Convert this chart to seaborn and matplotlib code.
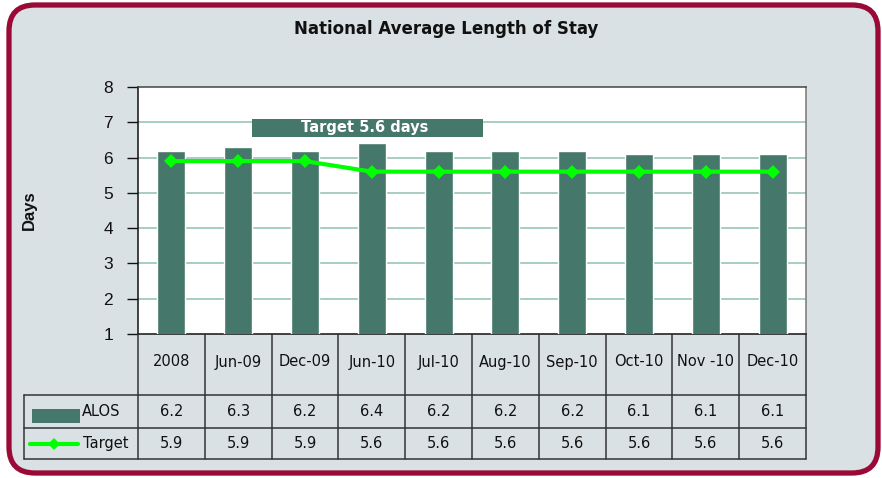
import matplotlib
matplotlib.use("Agg")
import matplotlib.pyplot as plt
import seaborn as sns
import pandas as pd
from matplotlib.patches import FancyBboxPatch, Rectangle

categories = ['2008', 'Jun-09', 'Dec-09', 'Jun-10', 'Jul-10', 'Aug-10',
              'Sep-10', 'Oct-10', 'Nov -10', 'Dec-10']
alos = [6.2, 6.3, 6.2, 6.4, 6.2, 6.2, 6.2, 6.1, 6.1, 6.1]
target = [5.9, 5.9, 5.9, 5.6, 5.6, 5.6, 5.6, 5.6, 5.6, 5.6]
yticks = [1, 2, 3, 4, 5, 6, 7, 8]
title = "National Average Length of Stay"
ylabel = "Days"
note = "Target 5.6 days"
series_names = ["ALOS", "Target"]

BAR = "#45786a"
LINE = "#00ff00"
BG = "#d9e1e4"
BORDER = "#9b0a36"
GRID = "#9fcab9"
WIDE = ['DejaVu Sans']

sns.set_theme(style="white")
plt.rcParams['font.family'] = ['Liberation Sans', 'DejaVu Sans']

W, H = 882, 478
fig = plt.figure(figsize=(W / 100, H / 100), dpi=100)
fig.patch.set_facecolor("white")

def fx(px):
    return px / W

def fy(py):
    return 1 - py / H

# background with rounded maroon border
bg = fig.add_axes([0, 0, 1, 1], zorder=-10)
bg.set_xlim(0, W)
bg.set_ylim(H, 0)
bg.axis("off")
bg.add_patch(FancyBboxPatch((9, 5), 869, 468, boxstyle="round,pad=0,rounding_size=26",
                            facecolor=BG, edgecolor=BORDER, linewidth=3.8))
bg.text(446, 29, title, ha="center", va="center", fontsize=12, fontweight="bold",
        color="#111111", family=WIDE)
bg.text(29, 210, ylabel, ha="center", va="center", rotation=90, fontsize=12,
        fontweight="bold", color="#111111")

# main chart
left_px, right_px, top_px, bot_px = 138, 806, 87, 334
ax = fig.add_axes([fx(left_px), fy(bot_px), fx(right_px - left_px), (bot_px - top_px) / H])
df = pd.DataFrame({"cat": categories, "alos": alos, "target": target})
sns.barplot(data=df, x="cat", y="alos", color=BAR, width=0.42, saturation=1, ax=ax, zorder=3)
sns.lineplot(x=list(range(len(categories))), y=target, color=LINE, linewidth=3, marker="D",
             markersize=7, markeredgewidth=0, ax=ax, zorder=4)
ax.set_facecolor("white")
ax.set_xlim(-0.5, len(categories) - 0.5)
ax.set_ylim(yticks[0], yticks[-1])
ax.set_yticks(yticks)
ax.set_yticklabels([str(t) for t in yticks], fontsize=12.5, color="#111111")
ax.set_xticks([])
ax.set_xlabel("")
ax.set_ylabel("")
for t in yticks[1:-1]:
    ax.axhline(t, color=GRID, linewidth=1.3, zorder=1)
ax.tick_params(axis="y", direction="out", length=8, width=1, color="#111111", left=True, pad=10)
ax.spines["left"].set_color("#111111")
ax.spines["bottom"].set_color("#111111")
ax.spines["top"].set_color("#444444")
ax.spines["right"].set_color("#777777")
for s in ax.spines.values():
    s.set_linewidth(1.1)

# note box
ax.add_patch(Rectangle((1.21, 6.58), 3.45, 0.51, facecolor=BAR, edgecolor="none", zorder=5))
ax.text(2.9, 6.84, note, ha="center", va="center", fontsize=10.5, fontweight="bold",
        color="white", zorder=6, family=WIDE)

# data table
tab_left, tab_right, tab_top, tab_bot = 24, 806, 334, 459
n = len(categories)
cw = (right_px - left_px) / n
extra = (left_px - tab_left) / cw
tab = fig.add_axes([fx(tab_left), fy(tab_bot), fx(tab_right - tab_left), (tab_bot - tab_top) / H])
tab.set_xlim(-0.5 - extra, n - 0.5)
tab.set_ylim(tab_bot - tab_top, 0)
tab.axis("off")
r1, r2, r3 = 61, 94, 125
lc = "#333333"
lw = 1.1
fs = 10.5
for i in range(n + 1):
    tab.plot([i - 0.5, i - 0.5], [0, r3], color=lc, lw=lw, clip_on=False)
for r in (r1, r2, r3):
    tab.plot([-0.5 - extra, n - 0.5], [r, r], color=lc, lw=lw, clip_on=False)
tab.plot([-0.5 - extra, -0.5 - extra], [r1, r3], color=lc, lw=lw, clip_on=False)
for i, c in enumerate(categories):
    tab.text(i, 28, c, ha="center", va="center", fontsize=fs, color="#111111", family=WIDE)
    tab.text(i, (r1 + r2) / 2, f"{alos[i]:.1f}", ha="center", va="center", fontsize=fs,
             color="#111111", family=WIDE)
    tab.text(i, (r2 + r3) / 2, f"{target[i]:.1f}", ha="center", va="center", fontsize=fs,
             color="#111111", family=WIDE)
# legend keys
x0 = -0.5 - extra
tab.add_patch(Rectangle((x0 + 8 / cw, r1 + 14), 48 / cw, 14, facecolor=BAR, edgecolor="none"))
tab.text(x0 + 58 / cw, (r1 + r2) / 2, series_names[0], ha="left", va="center", fontsize=fs,
         color="#111111", family=WIDE)
tab.plot([x0 + 6 / cw, x0 + 54 / cw], [(r2 + r3) / 2] * 2, color=LINE, lw=3)
tab.plot([x0 + 30 / cw], [(r2 + r3) / 2], marker="D", color=LINE, markersize=6, markeredgewidth=0)
tab.text(x0 + 59 / cw, (r2 + r3) / 2, series_names[1], ha="left", va="center", fontsize=fs,
         color="#111111", family=WIDE)

fig.savefig("out.png", dpi=100, facecolor=fig.get_facecolor())
